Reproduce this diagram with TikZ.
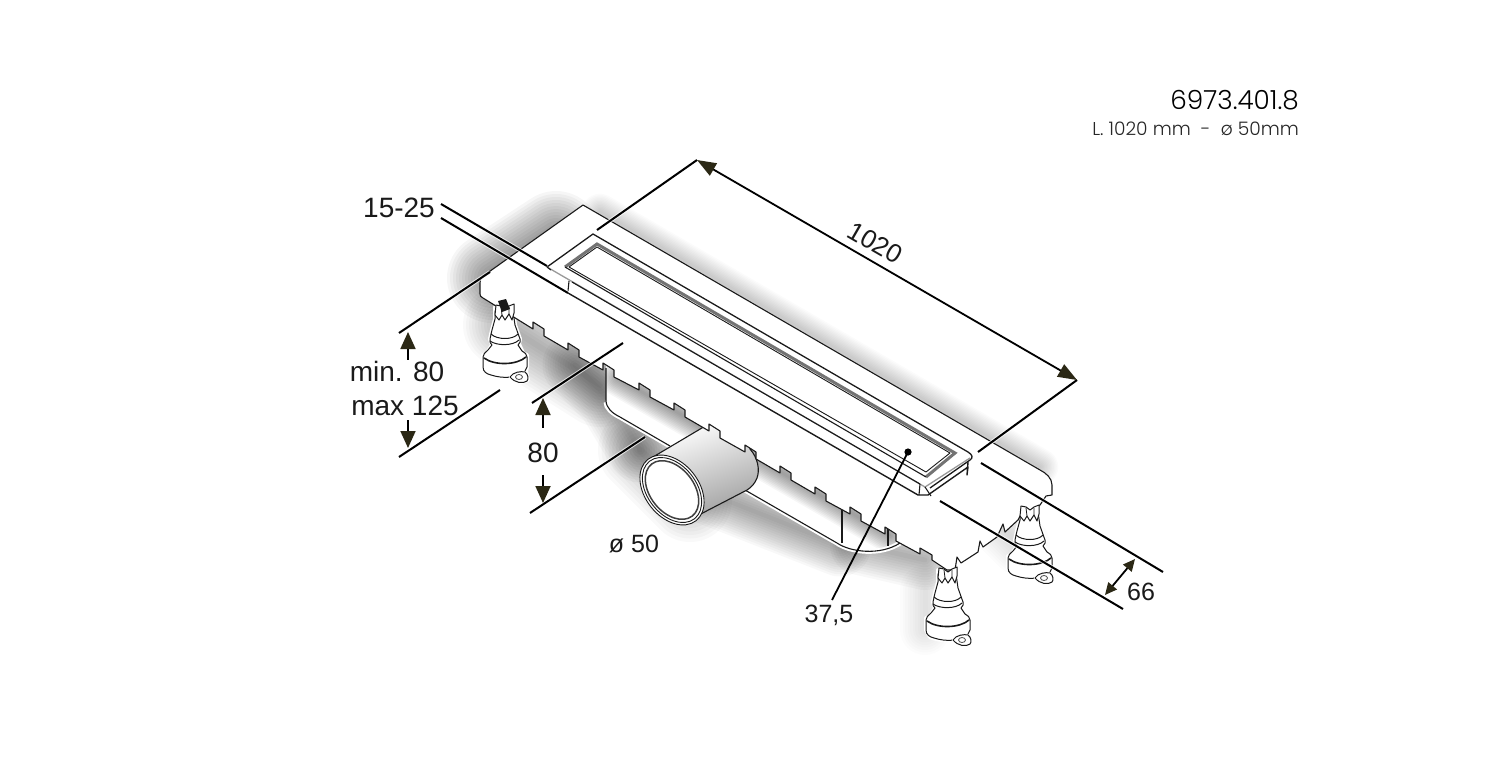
\documentclass[tikz,border=0pt]{standalone}
\usepackage{fontspec}
\setmainfont{Liberation Sans}
\newfontfamily\topfont[UprightFont=* Light]{Poppins}
\usetikzlibrary{arrows.meta}
\definecolor{ink}{HTML}{1A1A1A}
\definecolor{tipc}{HTML}{2B2815}
\newcommand{\softblur}[4]{\foreach \i in {1,...,#3}{\path[draw=black,line join=round,line cap=round,opacity=#4,line width=\i*#2] #1;}}
\newcommand{\footbase}[2]{%
 \begin{scope}[shift={(#1,#2)}]
  \path[draw=white,line width=4pt,fill=white,line join=round] (-10,0)--(-10,12)--(-13,23)--(-15,32)--(-13,38)--(-18,46)--(-22,48)--(-22,60)--(-18,67) .. controls (-8,71) and (4,71) .. (8,70)--(14,76)--(23,73)--(21,64)--(22,60)--(22,48)--(18,46)--(14,37)--(15,32)--(10,18)--(8,0)--cycle;
  \draw[foot] (-10,4)--(-10,12)--(-13,23)--(-15,32) .. controls (-16,35) and (-14,37) .. (-13,38)--(-17,43) .. controls (-20,46) and (-22,47) .. (-22,50)--(-22,60) .. controls (-22,65) and (-18,67) .. (-14,68) .. controls (-8,70) and (0,71) .. (6,70);
  \draw[foot] (8,4)--(10,18)--(15,32) .. controls (16,34) and (15,36) .. (13,38)--(17,44) .. controls (20,46) and (22,47) .. (22,50)--(22,60)--(20,64);
  \draw[foot] (-14,27) .. controls (-8,33) and (8,33) .. (13,27);
  \draw[foot] (-15,34) .. controls (-8,39) and (8,39) .. (14,33);
  \draw[foot,line width=1.6pt] (-21,51) .. controls (-10,59) and (12,58) .. (21,50);
  \path[fill=white] (14,70) ellipse[x radius=10,y radius=6];
  \draw[foot] (5,70) .. controls (8,65) and (16,64) .. (20,65) .. controls (23,67) and (24,72) .. (22,74) .. controls (18,77) and (10,76) .. (5,70)--cycle;
  \draw[foot,line width=.8pt,draw=black!70] (14,70) ellipse[x radius=3.5,y radius=2.5];
 \end{scope}}
\newcommand{\footcrown}[2]{%
 \begin{scope}[shift={(#1,#2)}]
  \draw[foot,fill=white] (-9,-2)--(-10,8)--(-6,13)--(-3,8)--(0,13)--(4,7)--(7,13)--(9,6)--(9,-3)--(4,-1)--(0,2)--(-4,-1)--cycle;
  \draw[foot,line width=.8pt] (-3,8)--(-4,0) (4,7)--(4,0);
 \end{scope}}
\tikzset{
 foot/.style={draw=ink,line width=1pt,line join=round,line cap=round},
 outl/.style={draw=ink,line width=1.1pt,line join=round},
 dimline/.style={draw=black,line width=2pt,preaction={draw=white,line width=4pt,opacity=.7}},
 dimtip/.style={draw=black,line width=1.8pt,{Triangle[length=17pt,width=15pt,color=tipc]}-},
 dimtipb/.style={draw=black,line width=1.8pt,{Triangle[length=19pt,width=14pt,color=tipc]}-{Triangle[length=19pt,width=14pt,color=tipc]}},
 lab/.style={font=\fontsize{28}{30}\selectfont,text=ink,inner sep=0pt},
 labs/.style={font=\fontsize{25}{27}\selectfont,text=ink,inner sep=0pt},
}
\begin{document}
\begin{tikzpicture}[x=1pt,y=-1pt]
\useasboundingbox (0,0) rectangle (1500,766);
\fill[white] (0,0) rectangle (1500,766);
% soft shadows
\softblur{(492,278)--(556,236)}{6pt}{15}{.036}
\softblur{(505,325)--(600,385)}{6pt}{14}{.022}
\softblur{(575,365)--(610,400)--(640,450)}{5pt}{13}{.028}
\softblur{(640,450)--(690,500)}{7pt}{12}{.024}
\softblur{(700,490)--(840,545)}{4.5pt}{14}{.026}
\softblur{(860,545)--(925,560)}{5pt}{12}{.028}
\softblur{(600,212)--(1040,467)}{2.8pt}{13}{.017}
\softblur{(985,510)--(1020,545)}{5pt}{12}{.01}
\softblur{(925,590)--(925,630)}{5pt}{10}{.01}
% feet behind the plate
\footbase{505}{307}
\footbase{1030}{508}
\footbase{948}{570}
% drain body
\begin{scope}
 \path[clip] (606,360)--(606,400) .. controls (606,408) and (612,413) .. (620,417)--(837,543) .. controls (850,552) and (880,556) .. (900,543)--(900,520)--cycle;
 \fill[white] (590,350) rectangle (910,560);
 \softblur{(618,378)--(890,535)}{3pt}{12}{.035}
\end{scope}
\draw[draw=white,line width=5pt] (606,402) .. controls (606,408) and (612,413) .. (620,417)--(670,446) (745,490)--(837,543) .. controls (850,552) and (880,556) .. (900,543);
\draw[outl] (606,368)--(606,400) .. controls (606,408) and (612,413) .. (620,417)--(670,446);
\draw[outl] (745,490)--(837,543) .. controls (850,552) and (880,556) .. (900,543);
\draw[outl] (842,510)--(842,543);
\draw[outl] (888,527)--(888,546);
% pipe
\path[outl,left color=white,right color=black!38,shading angle=20] (653,457)--(712,422)--(750,445)--(750,449) .. controls (758,458) and (760,470) .. (757,478) .. controls (755,483) and (752,487) .. (747,490)--(693,518)--cycle;
\fill[white,rotate around={-52:(672,490)}] (672,490) ellipse[x radius=39,y radius=27];
\draw[outl,line width=.9pt,rotate around={-52:(672,490)}] (672,490) ellipse[x radius=39,y radius=27];
\draw[outl,line width=.9pt,rotate around={-52:(672,490)}] (672,490) ellipse[x radius=36.5,y radius=24.5];
\draw[outl,line width=1.5pt,draw=black!75,rotate around={-52:(672,490)}] (672,490) ellipse[x radius=33,y radius=22];
% plate
\path[outl,fill=white] (583,205)--(1040,470) .. controls (1046,473) and (1052,478) .. (1052,485)--(1052,495)--(1046,496)--(1040,505)--(1025,517)--(1023,510)--(1018,520)--(1005,532)--(1003,524)--(997,537)--(983,547)--(980,541)--(978,552)--(961,563)--(957,557)--(955,570)--(947,570)--(932,560)--(932,555)--(920,548)--(920,554)
 \foreach \tx/\ty in {885/527,850/507,815/487,780/466,745/445,709/424,674/403,639/383,603/363,568/343,533/322}{ --(\tx+11,\ty+14)--(\tx+11,\ty+7)--(\tx,\ty)--(\tx,\ty+7)}
 --(483,298) .. controls (481,297) and (480,296) .. (480,294)--(480,283) .. controls (480,279) and (482,276) .. (486,274)--cycle;
% grate
\draw[outl,line width=1.3pt] (547,267)--(593,234)--(968,452) .. controls (973,455) and (973,458) .. (970,460)--(930,488);
\draw[draw=black!40,line width=1.3pt] (547,267)--(925,487)--(970,458);
\draw[outl] (547,267)--(551,270);
\draw[outl,line width=1.4pt] (568,293)--(918,495)--(928,495)--(968,467)--(967,475)--(968,462);
\draw[outl] (569,281)--(568,291);
\draw[outl] (572,282)--(920,484);
\draw[outl] (920,484)--(919,495);
\draw[outl] (925,487)--(931,496);
% inner frame
\draw[draw=black!55,line width=3pt,line join=miter] (565,267)--(597,244)--(955,453)--(926,477);
\draw[outl,line width=.9pt] (569,267)--(597,247)--(950,453)--(926,472);
\draw[outl] (565,267)--(926,477);
\draw[outl,line width=.9pt] (569,267)--(926,472);
% crowns
\footcrown{505}{307}
\footcrown{1030}{508}
\footcrown{948}{570}
\fill[ink] (498,301)--(506,299)--(510,309)--(502,312)--cycle;
% dimensions
\coordinate (a1) at (697,160); \coordinate (a2) at (1077,380);
\draw[dimline] (597,230)--(a1);
\draw[dimline] (978,452)--(a2);
\draw[dimtipb] (a1)--(a2);
\draw[dimline] (441,204)--(547,266);
\draw[dimline] (441,218)--(568,293);
\draw[dimline] (399,333)--(490,272);
\draw[dimline] (399,457)--(500,390);
\draw[dimline] (532,403)--(623,343);
\draw[dimline] (530,513)--(645,437);
\draw[dimline] (981,463)--(1163,572);
\draw[dimline] (940,501)--(1123,609);
\draw[dimtip] (408,332)--(408,360);
\draw[dimtip] (408,448)--(408,420);
\draw[dimtip] (543,398)--(543,428);
\draw[dimtip] (543,503)--(543,475);
\draw[draw=black,line width=1.8pt,{Triangle[length=12pt,width=11pt,color=tipc]}-{Triangle[length=12pt,width=11pt,color=tipc]}] (1135,559)--(1105,595);
\coordinate (lead) at (832,600);
\fill[black] (908,452) circle (3.6pt);
\draw[draw=black,line width=1.8pt] (908,452)--(lead);
% labels
\node[lab] (t1) at (399,208) {15-25};
\node[lab] (t2) at (397,371) {min. 80};
\node[lab] (t3) at (405,406) {max 125};
\node[lab] (t4) at (543,453) {80};
\node[font=\fontsize{26}{28}\selectfont,text=ink,inner sep=0pt,rotate=-30] (t5) at (875,243) {1020};
\node[labs] (t6) at (634,544) {ø 50};
\node[labs] (t7) at (829,615) {37,5};
\node[labs] (t8) at (1141,592) {66};
\node[font=\topfont\fontsize{26.3}{28}\selectfont,text=black,inner sep=0pt,anchor=east] (t9) at (1299,100) {6973.401.8};
\node[font=\topfont\fontsize{18.6}{20}\selectfont,text=black!85,inner sep=0pt,anchor=east] (t10) at (1299,129) {L. 1020 mm \ - \ ø 50mm};
\end{tikzpicture}
\end{document}
